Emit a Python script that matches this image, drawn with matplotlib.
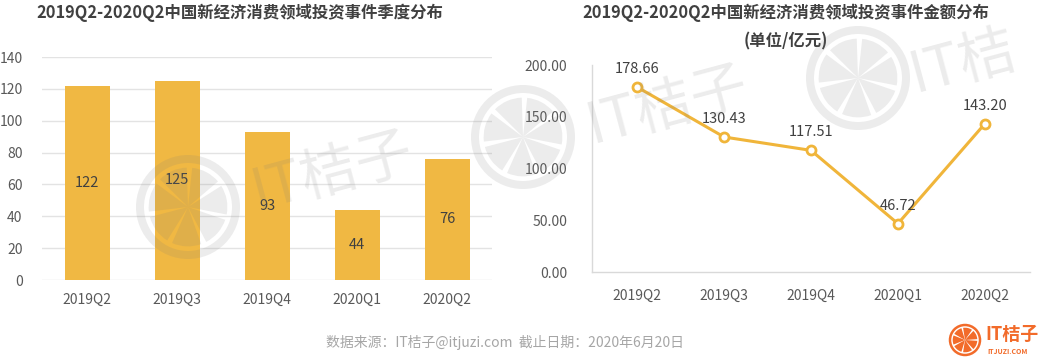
import numpy as np
import matplotlib
matplotlib.use("Agg")
import matplotlib.pyplot as plt
from matplotlib.patches import Circle, Wedge

plt.rcParams['font.family'] = ['Noto Sans CJK SC', 'DejaVu Sans']

quarters = ['2019Q2', '2019Q3', '2019Q4', '2020Q1', '2020Q2']
deal_counts = [122, 125, 93, 44, 76]
deal_amounts = [178.66, 130.43, 117.51, 46.72, 143.20]
count_ticks = [0, 20, 40, 60, 80, 100, 120, 140]
amount_ticks = [0, 50, 100, 150, 200]

title_left = '2019Q2-2020Q2中国新经济消费领域投资事件季度分布'
title_right = '2019Q2-2020Q2中国新经济消费领域投资事件金额分布'
subtitle_right = '(单位/亿元)'
footer = '数据来源：IT桔子@itjuzi.com  截止日期：2020年6月20日'

W, H = 1062, 363
gold = '#F0B843'
line_gold = '#F0B53A'
txt = '#404040'
tick_c = '#595959'

fig = plt.figure(figsize=(W / 100, H / 100), dpi=100)

def frac(x0, y_top, x1, y_bot):
    return [x0 / W, 1 - y_bot / H, (x1 - x0) / W, (y_bot - y_top) / H]

# ---- left: bar chart
ax1 = fig.add_axes(frac(42, 57, 492, 280))
x = np.arange(len(quarters))
ax1.bar(x, deal_counts, width=0.5, color=gold, zorder=2)
for xi, v in zip(x, deal_counts):
    ax1.text(xi, v / 2, str(v), ha='center', va='center', fontsize=10.5, color=txt, zorder=3)
ax1.set_xlim(-0.5, 4.5)
ax1.set_ylim(0, 140)
ax1.set_yticks(count_ticks)
ax1.set_xticks(x)
ax1.set_xticklabels(quarters)
ax1.grid(axis='y', color='#e3e3e3', lw=1, zorder=0)
for s in ax1.spines.values():
    s.set_visible(False)
ax1.tick_params(length=0, labelsize=10, colors=tick_c)
ax1.tick_params(axis='y', pad=14)
ax1.tick_params(axis='x', pad=9)

# ---- right: line chart
ax2 = fig.add_axes(frac(592, 65, 1030, 272))
ax2.plot(x, deal_amounts, color=line_gold, lw=2.2, marker='o', ms=6.5,
         mfc='white', mec=line_gold, mew=2, zorder=3)
for xi, v in zip(x, deal_amounts):
    ax2.annotate(f'{v:.2f}', (xi, v), xytext=(0, 13), textcoords='offset points',
                 ha='center', va='center', fontsize=10.5, color=txt)
ax2.set_xlim(-0.52, 4.52)
ax2.set_ylim(0, 200)
ax2.set_yticks(amount_ticks)
ax2.set_yticklabels([f'{t:.2f}' for t in amount_ticks])
ax2.set_xticks(x)
ax2.set_xticklabels(quarters)
for k in ['top', 'right']:
    ax2.spines[k].set_visible(False)
for k in ['left', 'bottom']:
    ax2.spines[k].set_color('#d9d9d9')
    ax2.spines[k].set_linewidth(1)
ax2.tick_params(length=0, labelsize=10, colors=tick_c)
ax2.tick_params(axis='y', pad=18)
ax2.tick_params(axis='x', pad=12)

# ---- titles and footer
fig.text(240 / W, 1 - 13 / H, title_left, ha='center', va='center',
         fontsize=11.8, fontweight='bold', color=txt)
fig.text(786 / W, 1 - 13 / H, title_right, ha='center', va='center',
         fontsize=11.8, fontweight='bold', color=txt)
fig.text(786 / W, 1 - 41 / H, subtitle_right, ha='center', va='center',
         fontsize=11.8, fontweight='bold', color=txt)
fig.text(505 / W, 1 - 342 / H, footer, ha='center', va='center',
         fontsize=10, color='#a6a6a6')

# ---- overlay in pixel coordinates: watermarks and logo
ov = fig.add_axes([0, 0, 1, 1], zorder=10)
ov.set_xlim(0, W)
ov.set_ylim(H, 0)
ov.axis('off')
ov.patch.set_alpha(0)

def orange_logo(cx, cy, r, color, alpha=1.0, rot=0):
    ov.add_patch(Circle((cx, cy), r, fill=False, lw=r * 0.12, ec=color, alpha=alpha))
    n = 7
    step = 360 / n
    for i in range(n):
        a0 = rot + i * step + 4
        ov.add_patch(Wedge((cx, cy), r * 0.82, a0, a0 + step - 8, fc=color,
                           ec='none', alpha=alpha))

wm = '#7a7a7a'
wa = 0.14
for cx, cy, tx, ty, label in [(188, 207, 332, 172, 'IT桔子'),
                              (523, 137, 667, 106, 'IT桔子'),
                              (858, 78, 963, 62, 'IT桔')]:
    orange_logo(cx, cy, 48, wm, wa, rot=15)
    ov.text(tx, ty, label, ha='center', va='center', fontsize=41, rotation=15,
            color=wm, alpha=wa)

orange_logo(965, 340, 15, '#F26B2A')
ov.text(985, 334, 'IT桔子', ha='left', va='center', fontsize=13, fontweight='bold',
        color='#F26B2A')
ov.text(987, 352, 'ITJUZI.COM', ha='left', va='center', fontsize=5, fontweight='bold',
        color='#F26B2A')

fig.savefig('out.png', dpi=100, facecolor='white')
